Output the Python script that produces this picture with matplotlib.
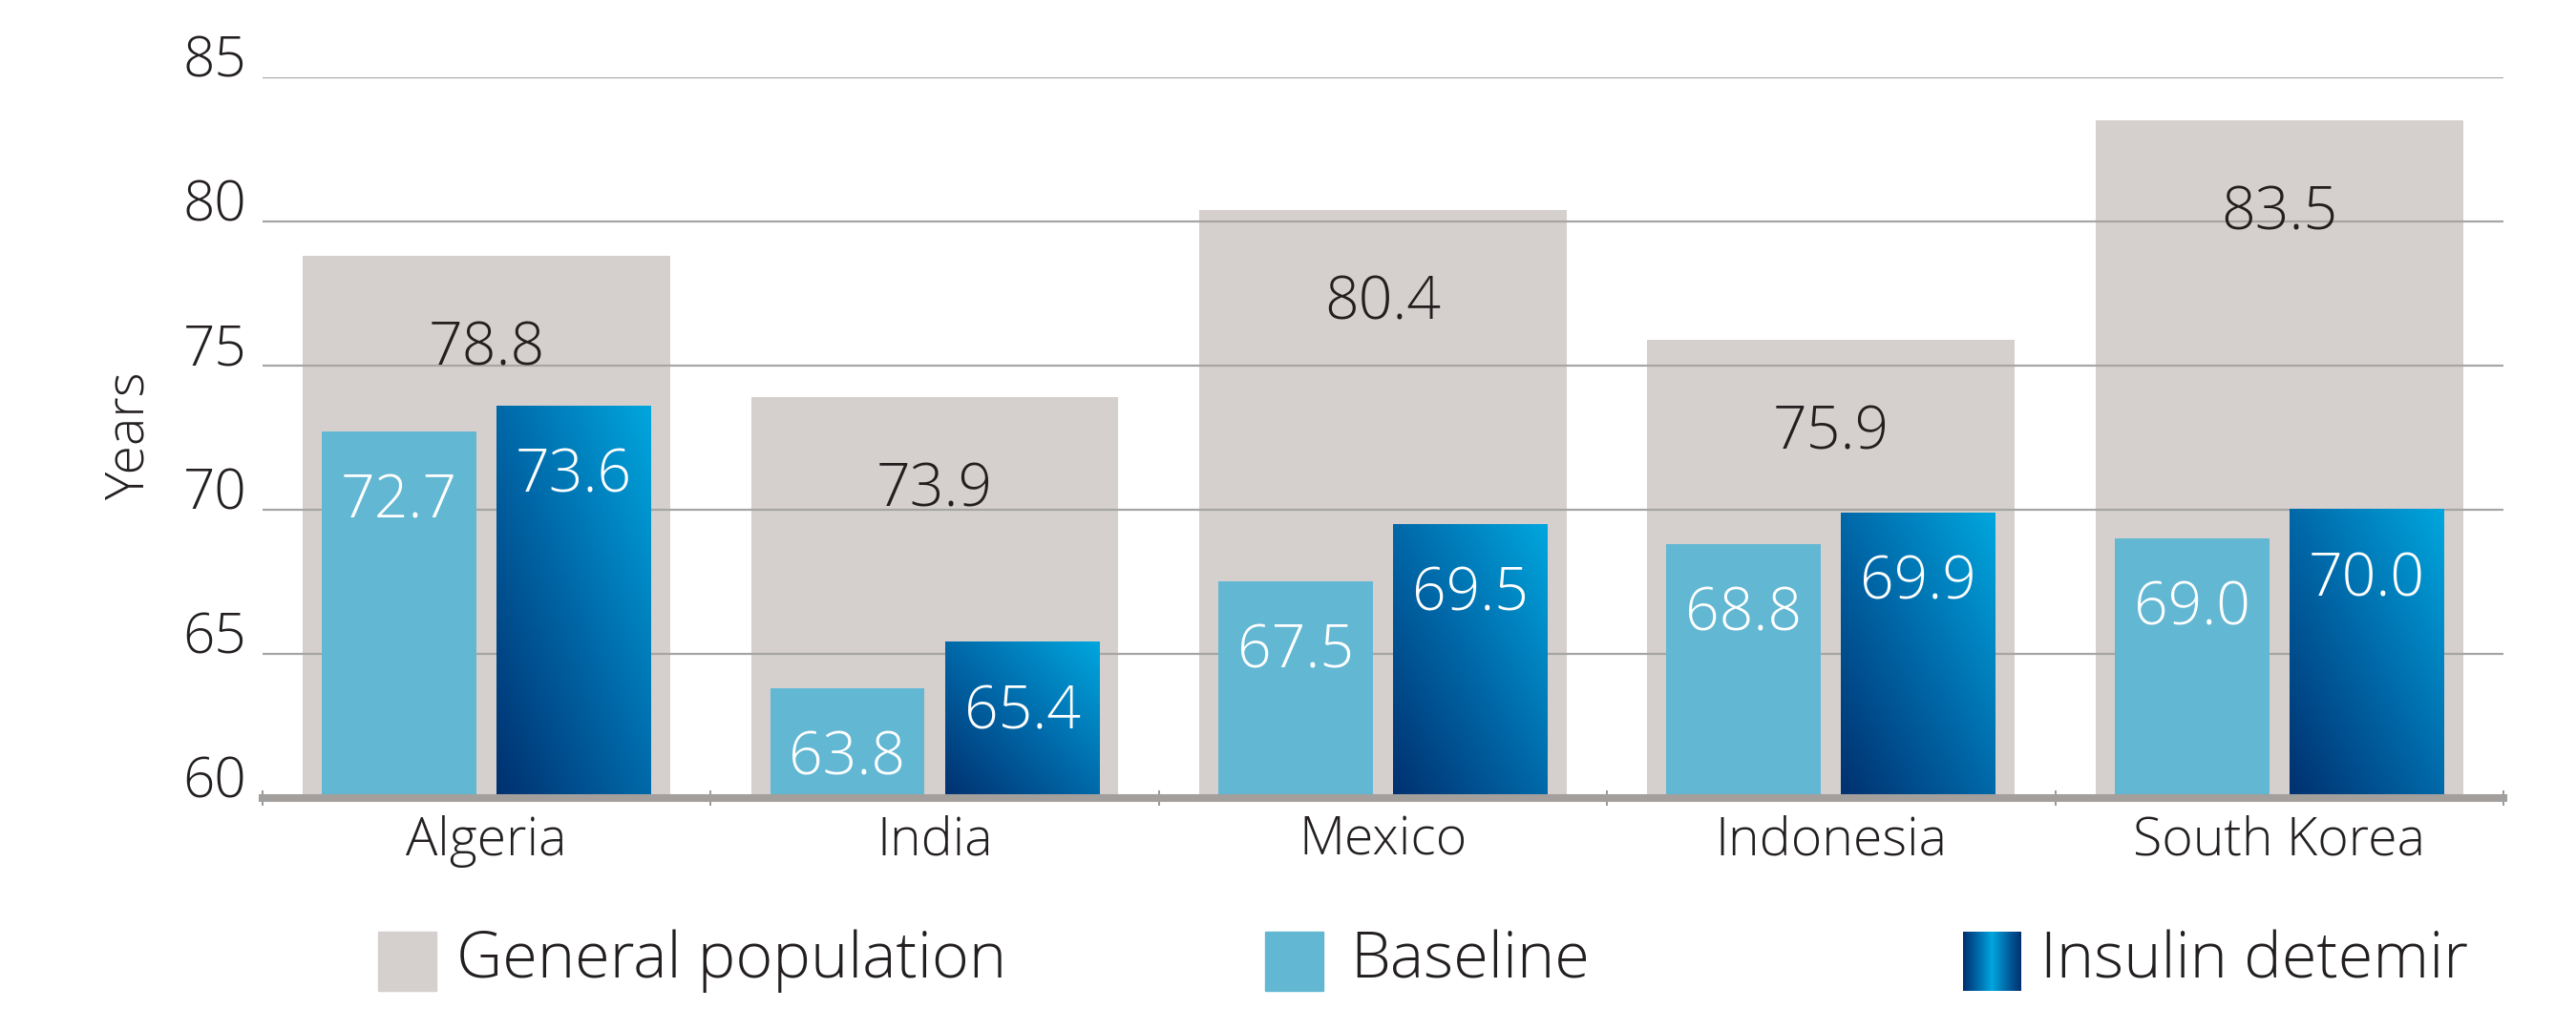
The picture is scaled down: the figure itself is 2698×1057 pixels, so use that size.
import matplotlib
matplotlib.use("Agg")
import matplotlib.pyplot as plt
import matplotlib.colors as mcolors
from matplotlib.patches import Rectangle
import numpy as np

plt.rcParams['font.family'] = ['Open Sans', 'DejaVu Sans']
plt.rcParams['font.weight'] = 'light'

countries = ['Algeria', 'India', 'Mexico', 'Indonesia', 'South Korea']
general_population = [78.8, 73.9, 80.4, 75.9, 83.5]
baseline = [72.7, 63.8, 67.5, 68.8, 69.0]
insulin_detemir = [73.6, 65.4, 69.5, 69.9, 70.0]
y_ticks = [60, 65, 70, 75, 80, 85]
legend_labels = ['General population', 'Baseline', 'Insulin detemir']

GRAY = '#d5d0cd'
LIGHT_BLUE = '#62b7d3'
TEXT = '#231f20'
detemir_cmap = mcolors.LinearSegmentedColormap.from_list(
    'detemir', ['#00306f', '#0068a8', '#00a6de'])

Y0 = 60

fig = plt.figure(figsize=(26.98, 10.57), dpi=100)
ax = fig.add_axes([0.1019, 0.2091, 0.8699, 0.7143])

x = np.arange(len(countries))
bar_w = 0.345
offset = 0.195

# wide grey bars for the general population
ax.bar(x, np.array(general_population) - Y0, bottom=Y0, width=0.82,
       color=GRAY, zorder=1)

# gridlines sit over the grey bars but under the blue ones
for yv in y_ticks[1:]:
    ax.axhline(yv, color='#a7a5a4', lw=1.6, zorder=2)

ax.bar(x - offset, np.array(baseline) - Y0, bottom=Y0, width=bar_w,
       color=LIGHT_BLUE, zorder=3)

# diagonal gradient for the detemir bars
gx = np.linspace(0, 1, 120)
gy = np.linspace(0, 1, 240)
grad = (gx[None, :] + gy[:, None]) / 2
for xi, v in zip(x, insulin_detemir):
    x0 = xi + offset - bar_w / 2
    ax.imshow(grad, cmap=detemir_cmap, origin='lower', aspect='auto',
              extent=[x0, x0 + bar_w, Y0, v], interpolation='bilinear',
              zorder=3)

for xi, g, b, d in zip(x, general_population, baseline, insulin_detemir):
    ax.text(xi, g - 3.25, f'{g:.1f}', ha='center', va='center',
            fontsize=45, color=TEXT, zorder=4)
    ax.text(xi - offset, b - 2.45, f'{b:.1f}', ha='center', va='center',
            fontsize=45, color='white', zorder=4)
    ax.text(xi + offset, d - 2.45, f'{d:.1f}', ha='center', va='center',
            fontsize=45, color='white', zorder=4)

ax.set_xlim(-0.5, len(countries) - 0.5)
ax.set_ylim(Y0, 85)

for s in ['top', 'right', 'left']:
    ax.spines[s].set_visible(False)
ax.spines['bottom'].set_color('#a39f9c')
ax.spines['bottom'].set_linewidth(5.8)
ax.spines['bottom'].set_zorder(5)

ax.set_xticks(np.arange(len(countries) + 1) - 0.5)
ax.set_xticklabels([])
ax.tick_params(axis='x', direction='inout', length=11, width=1.4,
               color='#999999')
for xi, name in zip(x, countries):
    ax.text(xi, -0.06, name, transform=ax.get_xaxis_transform(),
            ha='center', va='center', fontsize=40, color=TEXT)

ax.set_yticks(y_ticks)
ax.set_yticklabels([str(t) for t in y_ticks], fontsize=42, color=TEXT)
ax.tick_params(axis='y', length=0, pad=12)
for lab in ax.get_yticklabels():
    lab.set_va('baseline')

fig.text(136 / 2698, 1 - 456 / 1057, 'Years', rotation=90, ha='center',
         va='center', fontsize=40, color=TEXT)

# legend built by hand: swatches plus labels along the bottom
W, H = 2698, 1057
sw_y = 1 - 1038 / H
sw_h = 62 / H
sw_w = 61 / W
fig.patches.append(Rectangle((396 / W, sw_y), sw_w, sw_h, color=GRAY,
                             transform=fig.transFigure, figure=fig))
fig.patches.append(Rectangle((1325 / W, sw_y), sw_w, sw_h, color=LIGHT_BLUE,
                             transform=fig.transFigure, figure=fig))
sw_ax = fig.add_axes([2056 / W, sw_y, sw_w, sw_h])
cyl = 1 - np.abs(np.linspace(-1, 1, 100))
sw_ax.imshow(cyl[None, :], cmap=detemir_cmap, aspect='auto',
             interpolation='bilinear', vmin=0, vmax=1)
sw_ax.axis('off')

text_y = 1 - 1007 / H
for tx, lab in zip([478, 1414, 2137], legend_labels):
    fig.text(tx / W, text_y, lab, ha='left', va='center', fontsize=48,
             color=TEXT)

fig.savefig('out.png', dpi=100)
